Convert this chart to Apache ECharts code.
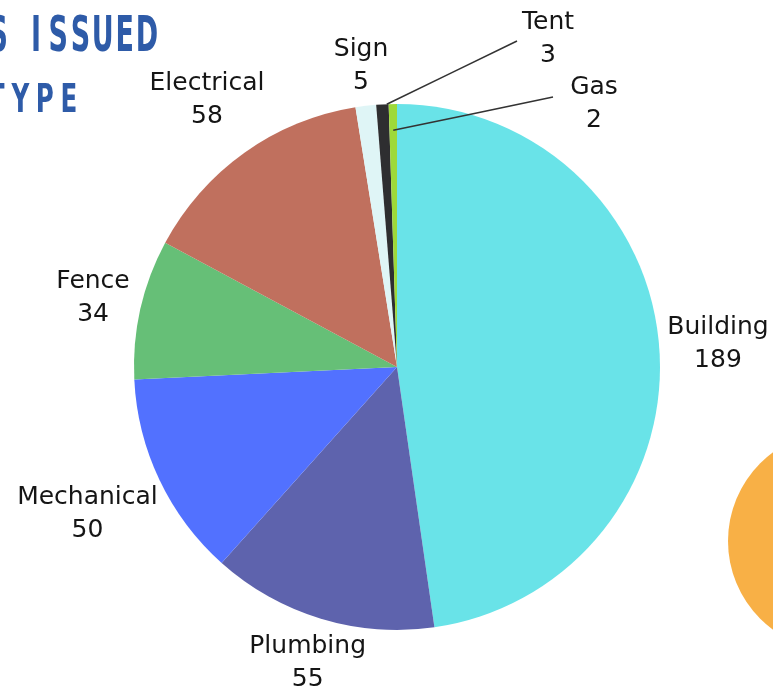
<!DOCTYPE html>
<html>
<head>
<meta charset="utf-8">
<script src="https://cdn.jsdelivr.net/npm/echarts@6/dist/echarts.min.js"></script>
<style>
html,body{margin:0;padding:0;background:#fff;}
#chart{width:773px;height:687px;}
</style>
</head>
<body>
<div id="chart"></div>
<script>
// ---- data ----
const categories = ['Building', 'Plumbing', 'Mechanical', 'Fence', 'Electrical', 'Sign', 'Tent', 'Gas'];
const values = [189, 55, 50, 34, 58, 5, 3, 2];
const colors = ['#69E3E8', '#5E63AD', '#5271FF', '#66BF77', '#C0705E', '#DFF5F6', '#2E2E30', '#9ED93A'];
const titleLines = ['S ISSUED', 'TYPE'];

// ---- layout ----
const cx = 397, cy = 367, R = 263;
const gap = 6;
const total = values.reduce((a, b) => a + b, 0);
const startAngles = [], spans = [];
let acc = 0;
values.forEach(v => { startAngles.push(acc / total * 360); spans.push(v / total * 360); acc += v; });
// callout labels (dragged outward with leader lines): offsets relative to pie centre
const callouts = {
  6: { lx: 151, ly: -328, startR: 1.0, frac: 0.85, endDx: -31, endDy: 2 },
  7: { lx: 197, ly: -263, startR: 0.9, frac: 0.5, endDx: -41, endDy: -7 }
};

// title: condensed, letter-spaced, right-aligned per line (letters placed right to left)
const titleSpecs = [
  { right: 147, topY: 13, pitch: 22.2, spaceExtra: 15.6, size: 50, scaleX: 0.6 },
  { right: 69, topY: 82, pitch: 24.3, spaceExtra: 15, size: 39, scaleX: 0.7 }
];
const graphics = [{
  type: 'circle',
  shape: { cx: 838, cy: 541, r: 110 },
  style: { fill: '#F8B046' },
  silent: true
}];
titleLines.forEach((line, li) => {
  const s = titleSpecs[li];
  const chars = line.split('');
  let x = s.right;
  let first = true;
  for (let k = chars.length - 1; k >= 0; k--) {
    const ch = chars[k];
    if (ch === ' ') { x -= s.spaceExtra; continue; }
    if (!first) x -= s.pitch;
    first = false;
    graphics.push({
      type: 'text',
      x: x,
      y: s.topY,
      scaleX: s.scaleX,
      silent: true,
      style: {
        text: ch,
        font: 'bold ' + s.size + 'px "DejaVu Sans Condensed", "DejaVu Sans", sans-serif',
        fill: '#2E5BA8',
        align: 'center',
        verticalAlign: 'top'
      }
    });
  }
});

const chart = echarts.init(document.getElementById('chart'), null, { renderer: 'canvas' });

const pieData = categories.map((c, i) => ({
  name: c, value: values[i], itemStyle: { color: colors[i] }
}));
const labelData = categories.map((c, i) => ({
  name: c, value: values[i],
  itemStyle: { color: 'rgba(0,0,0,0)' },
  labelLine: { show: !!callouts[i] }
}));

chart.setOption({
  animation: false,
  backgroundColor: '#fff',
  graphic: graphics,
  series: [{
    type: 'pie',
    center: [cx, cy],
    radius: [0, R],
    startAngle: 90,
    clockwise: true,
    silent: true,
    label: { show: false },
    labelLine: { show: false },
    data: pieData,
    z: 1
  }, {
    type: 'pie',
    center: [cx, cy],
    radius: [0, R],
    startAngle: 90,
    clockwise: true,
    silent: true,
    avoidLabelOverlap: false,
    z: 5,
    data: labelData,
    label: {
      show: true,
      position: 'outside',
      formatter: '{b}\n{c}',
      fontFamily: '"DejaVu Sans", sans-serif',
      fontSize: 25,
      lineHeight: 33,
      color: '#151515',
      align: 'center'
    },
    labelLine: {
      show: false,
      length: 10,
      length2: 10,
      lineStyle: { color: '#333', width: 1.6 }
    },
    labelLayout: function (p) {
      const i = p.dataIndex;
      const co = callouts[i];
      const w = p.labelRect.width, h = p.labelRect.height;
      if (co) {
        const a = (startAngles[i] + spans[i] * co.frac) * Math.PI / 180;
        const ux = Math.sin(a), uy = -Math.cos(a);
        const lx = cx + co.lx, ly = cy + co.ly;
        const sx = cx + R * co.startR * ux, sy = cy + R * co.startR * uy;
        const endX = lx + co.endDx, endY = ly + co.endDy;
        return {
          x: lx, y: ly, align: 'center', verticalAlign: 'middle',
          labelLinePoints: [[sx, sy], [(sx + endX) / 2, (sy + endY) / 2], [endX, endY]]
        };
      }
      const a = (startAngles[i] + spans[i] / 2) * Math.PI / 180;
      const ux = Math.sin(a), uy = -Math.cos(a);
      const d = R + gap - 9 * Math.max(0, uy) - 2 * Math.max(0, -uy) + (w / 2) * Math.abs(ux) + (h / 2) * Math.abs(uy);
      return { x: cx + d * ux, y: cy + d * uy, align: 'center', verticalAlign: 'middle' };
    }
  }]
});
</script>
</body>
</html>
